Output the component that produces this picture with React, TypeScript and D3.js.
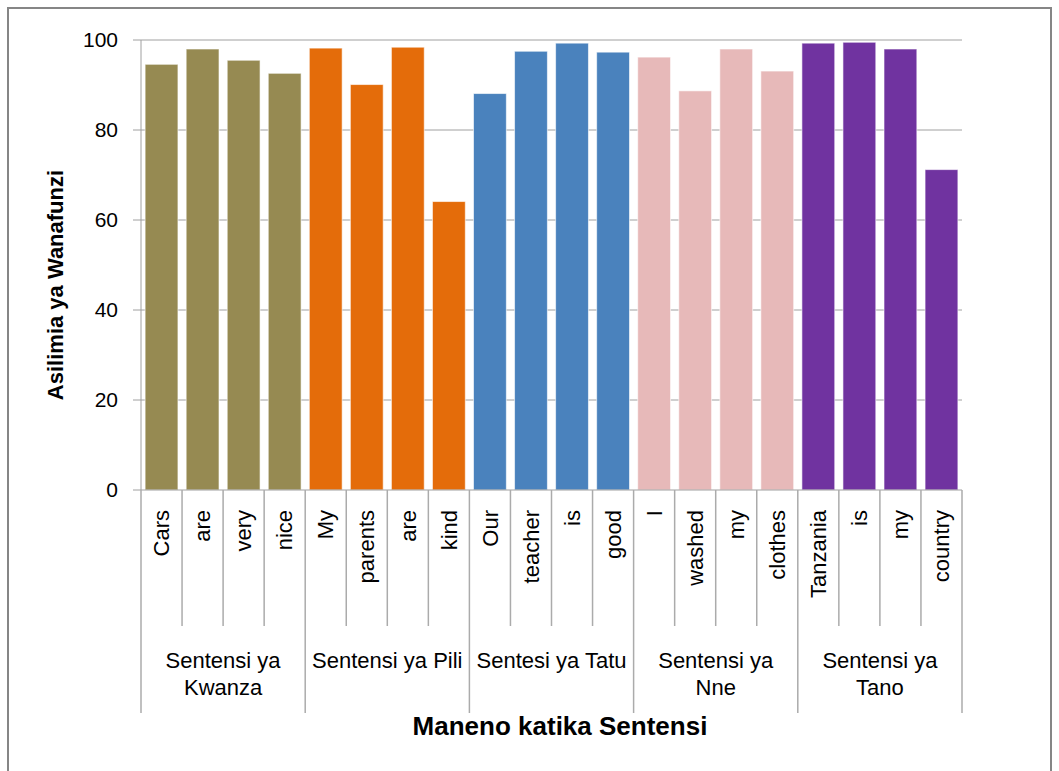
import * as d3 from "d3";

const words = [
  "Cars", "are", "very", "nice",
  "My", "parents", "are", "kind",
  "Our", "teacher", "is", "good",
  "I", "washed", "my", "clothes",
  "Tanzania", "is", "my", "country",
];
const percents = [
  94.6, 98.0, 95.5, 92.6,
  98.2, 90.1, 98.4, 64.1,
  88.1, 97.5, 99.3, 97.3,
  96.2, 88.7, 98.0, 93.1,
  99.3, 99.5, 98.0, 71.2,
];
const groups = [
  ["Sentensi ya", "Kwanza"],
  ["Sentensi ya Pili"],
  ["Sentesi ya Tatu"],
  ["Sentensi ya", "Nne"],
  ["Sentensi ya", "Tano"],
];
const groupColors = ["#968A52", "#E46C0A", "#4A82BD", "#E7B9B9", "#7033A0"];
const yTicks = [0, 20, 40, 60, 80, 100];

const font = "'Liberation Sans', Arial, sans-serif";

export default function App() {
  const width = 1059;
  const height = 771;
  const left = 141;
  const right = 962;
  const top = 40;
  const bottom = 490;

  const ids = words.map((_, i) => String(i));
  const x = d3.scaleBand().domain(ids).range([left, right]).paddingInner(0.2).paddingOuter(0.1);
  const y = d3.scaleLinear().domain([0, 100]).range([bottom, top]);
  const step = x.step();
  const per = 4;
  const edge = (i: number) => left + i * ((right - left) / words.length);

  return (
    <svg width={width} height={height} style={{ position: "absolute", left: 0, top: 0 }} fontFamily={font}>
      <rect x={0} y={0} width={width} height={height} fill="#fff" />
      <rect x={8} y={8} width={1043} height={800} fill="none" stroke="#868686" strokeWidth={2} />

      {/* gridlines */}
      {yTicks.map((t) => (
        <g key={t}>
          {t > 0 && <line x1={left} x2={right} y1={y(t)} y2={y(t)} stroke="#A0A0A0" strokeWidth={1} />}
          <line x1={133} x2={left} y1={y(t)} y2={y(t)} stroke="#A0A0A0" strokeWidth={1} />
          <text x={118} y={y(t)} dy="0.35em" textAnchor="end" fontSize={21} fill="#000">{t}</text>
        </g>
      ))}

      {/* bars */}
      {percents.map((v, i) => (
        <rect
          key={i}
          x={x(String(i))}
          y={y(v)}
          width={x.bandwidth()}
          height={y(0) - y(v)}
          fill={groupColors[Math.floor(i / per)]}
          stroke="#ffffff"
          strokeOpacity={0.6}
          strokeWidth={1}
        />
      ))}

      {/* axes */}
      <line x1={left} x2={left} y1={top} y2={bottom} stroke="#A0A0A0" />
      <line x1={left} x2={right} y1={bottom} y2={bottom} stroke="#A0A0A0" />

      {/* category separators */}
      {d3.range(words.length + 1).map((i) => (
        <line
          key={i}
          x1={edge(i)}
          x2={edge(i)}
          y1={bottom}
          y2={i % per === 0 ? 713 : 626}
          stroke="#ABABAB"
          strokeWidth={1.5}
        />
      ))}

      {/* word labels */}
      {words.map((w, i) => {
        const cx = (x(String(i)) ?? 0) + x.bandwidth() / 2;
        return (
          <text
            key={i}
            transform={`translate(${cx},510) rotate(-90)`}
            textAnchor="end"
            dy="0.35em"
            fontSize={22}
            fill="#000"
          >
            {w}
          </text>
        );
      })}

      {/* group labels */}
      {groups.map((g, gi) => {
        const cx = (edge(gi * per) + edge((gi + 1) * per)) / 2;
        return (
          <text key={gi} x={cx} textAnchor="middle" fontSize={22} fill="#000">
            {g.map((line, li) => (
              <tspan key={li} x={cx} y={668 + li * 27}>{line}</tspan>
            ))}
          </text>
        );
      })}

      {/* axis titles */}
      <text x={560} y={735} textAnchor="middle" fontSize={26} fontWeight="bold" fill="#000">
        Maneno katika Sentensi
      </text>
      <text transform="translate(63,285) rotate(-90)" textAnchor="middle" fontSize={22} fontWeight="bold" fill="#000">
        Asilimia ya Wanafunzi
      </text>
      {step > 0 ? null : null}
    </svg>
  );
}
